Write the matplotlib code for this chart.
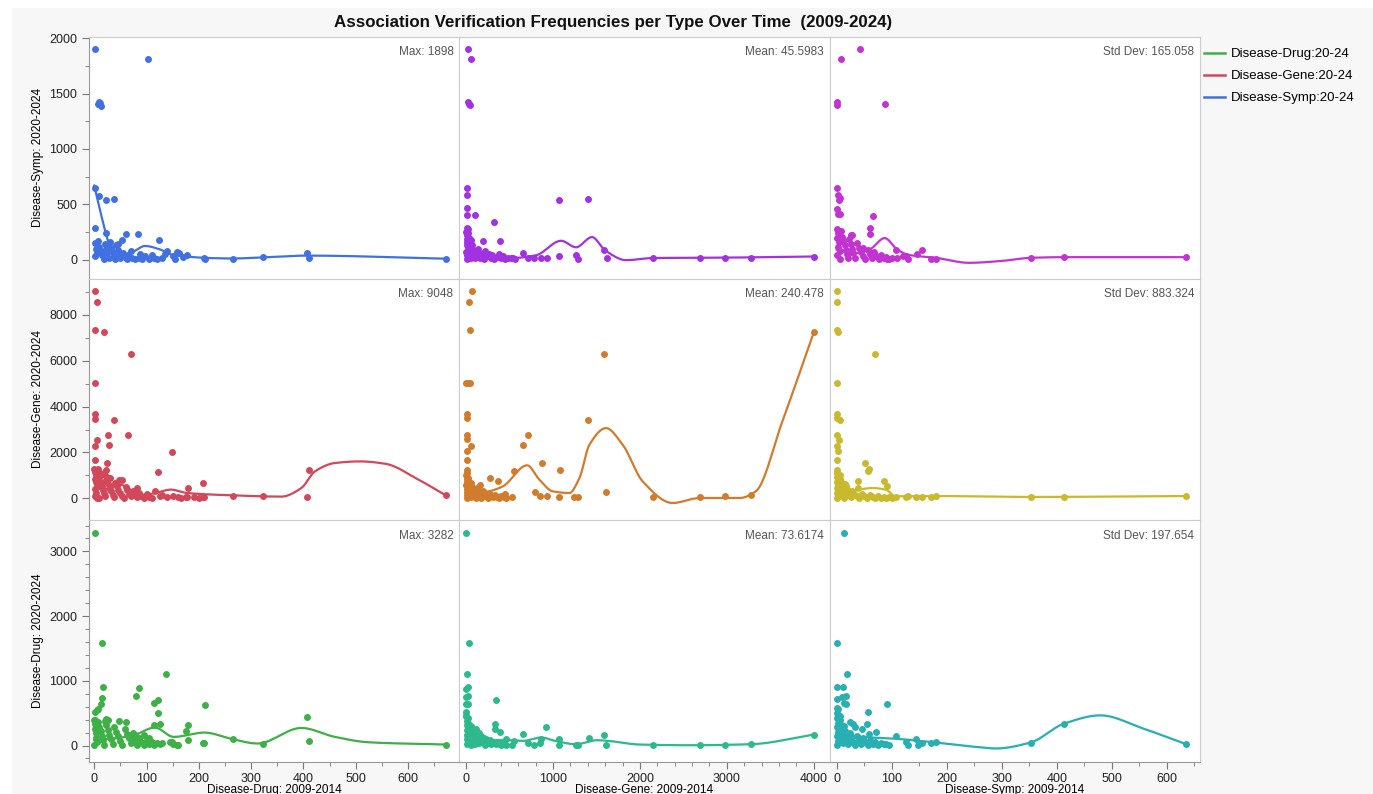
import numpy as np
import matplotlib.pyplot as plt
from matplotlib.lines import Line2D
from matplotlib.patches import Rectangle
from matplotlib.ticker import MultipleLocator

plt.rcParams["font.family"] = ["Liberation Sans", "DejaVu Sans"]

# column variables (x) and row variables (y)
col_names = ["Disease-Drug: 2009-2014", "Disease-Gene: 2009-2014", "Disease-Symp: 2009-2014"]
row_names = ["Disease-Symp: 2020-2024", "Disease-Gene: 2020-2024", "Disease-Drug: 2020-2024"]

stat_labels = ["Max", "Mean", "Std Dev"]
row_stats = [["1898", "45.5983", "165.058"],
             ["9048", "240.478", "883.324"],
             ["3282", "73.6174", "197.654"]]

legend_labels = ["Disease-Drug:20-24", "Disease-Gene:20-24", "Disease-Symp:20-24"]
legend_colors = ["#3db046", "#d2485a", "#4170e0"]

panel_colors = [["#4170e0", "#a032e1", "#c233d2"],
                ["#d2485a", "#d07c2c", "#c8b92d"],
                ["#3db046", "#2db98c", "#28afb2"]]

# ---- points: (x 2009-2014, y 2020-2024) ----
drug_symp = [(1, 1898), (102, 1810), (7, 1405), (11, 1415), (13, 1390), (9, 1420), (1, 648),
             (2, 285), (10, 580), (23, 540), (37, 550), (22, 245), (60, 230), (83, 230), (124, 180),
             (53, 175), (46, 140), (140, 80), (158, 72), (178, 48), (210, 18), (212, 8), (265, 9),
             (323, 24), (406, 62), (411, 18), (672, 9),
             (1, 150), (3, 100), (5, 60), (2, 30), (8, 170), (10, 120), (12, 80), (15, 40), (18, 10),
             (20, 140), (22, 95), (25, 60), (28, 20), (30, 160), (33, 110), (35, 70), (38, 30),
             (40, 5), (42, 130), (45, 90), (48, 50), (50, 15), (55, 60), (58, 25), (62, 10),
             (65, 45), (70, 80), (72, 20), (78, 5), (85, 15), (88, 50), (92, 10), (98, 30),
             (105, 5), (110, 40), (115, 15), (120, 5), (130, 20), (135, 55), (150, 30), (155, 10),
             (162, 60), (170, 25)]

gene_symp = [(20, 1898), (57, 1810), (22, 1420), (35, 1405), (45, 1395), (3, 648), (3, 585),
             (3, 465), (5, 400), (95, 405), (8, 286), (325, 345), (1070, 540), (1405, 553),
             (390, 170), (190, 170), (650, 60), (1065, 30), (1260, 40), (1290, 10), (1590, 85),
             (1615, 12), (2145, 18), (2690, 12), (2980, 12), (3280, 18), (4005, 24), (708, 15),
             (782, 15), (858, 15), (928, 12), (535, 15),
             (0, 250), (5, 220), (10, 190), (3, 160), (8, 130), (15, 100), (2, 70), (12, 40),
             (6, 10), (20, 280), (25, 240), (30, 200), (35, 150), (40, 110), (45, 60), (50, 20),
             (60, 180), (70, 130), (80, 90), (90, 50), (100, 15), (110, 70), (120, 30), (130, 100),
             (150, 60), (160, 20), (180, 45), (200, 10), (220, 80), (240, 30), (260, 55), (280, 15),
             (300, 40), (320, 10), (350, 25), (380, 50), (400, 15), (420, 30), (450, 10), (480, 20),
             (520, 12), (560, 10)]

symp_symp = [(42, 1898), (7, 1810), (1, 1420), (1, 1400), (87, 1405), (0, 645), (3, 585), (5, 560),
             (4, 540), (0, 460), (3, 410), (5, 410), (65, 395), (60, 290), (60, 232), (28, 228),
             (25, 220), (48, 105), (107, 90), (125, 33), (130, 9), (146, 56), (154, 86), (172, 9),
             (180, 9), (352, 18), (413, 24), (635, 24), (92, 9),
             (0, 280), (2, 240), (1, 200), (4, 160), (3, 120), (6, 80), (1, 40), (5, 10), (8, 260),
             (10, 210), (12, 170), (14, 130), (16, 90), (18, 50), (20, 15), (22, 190), (25, 140),
             (28, 100), (30, 60), (33, 20), (36, 150), (40, 110), (44, 70), (48, 30), (52, 5),
             (56, 90), (60, 50), (64, 15), (68, 70), (72, 30), (76, 10), (80, 45), (85, 15),
             (90, 25), (95, 10), (100, 20), (110, 12), (120, 30)]

drug_gene = [(1, 9048), (5, 8580), (1, 7340), (19, 7260), (70, 6300), (1, 5020), (1, 3670),
             (1, 3450), (37, 3400), (6, 2540), (26, 2740), (65, 2740), (1, 2265), (28, 2310),
             (149, 2035), (1, 1670), (24, 1540), (22, 1220), (7, 1290), (121, 1160), (207, 680),
             (411, 1220), (406, 45), (672, 130), (323, 85), (265, 100), (180, 435), (207, 44),
             (210, 44), (31, 885), (48, 780), (53, 790), (81, 435), (117, 320), (160, 44),
             (175, 44), (178, 44),
             (0, 1300), (2, 1150), (4, 1000), (1, 850), (3, 700), (5, 550), (2, 400), (4, 250),
             (1, 100), (6, 20), (8, 900), (10, 780), (12, 650), (14, 520), (16, 380), (18, 240),
             (20, 100), (9, 30), (22, 800), (25, 700), (28, 560), (30, 420), (32, 300), (35, 160),
             (38, 50), (40, 650), (43, 520), (46, 380), (50, 240), (53, 110), (56, 20), (60, 500),
             (63, 350), (66, 200), (70, 80), (74, 300), (78, 150), (82, 40), (86, 250), (90, 120),
             (95, 30), (100, 180), (105, 60), (110, 20), (125, 90), (130, 150), (140, 40),
             (150, 100), (165, 30), (190, 50), (200, 15), (13, 1000), (7, 1180), (18, 1100),
             (24, 950)]

gene_gene = [(65, 9048), (26, 8580), (46, 7340), (1590, 6300), (0, 5020), (20, 5020), (38, 5020),
             (5, 3670), (5, 3500), (1405, 3400), (5, 2740), (5, 2580), (50, 2265), (708, 2740),
             (650, 2320), (5, 2050), (5, 1685), (5, 1250), (5, 1100), (873, 1540), (545, 1205),
             (1076, 1250), (268, 885), (364, 770), (153, 595), (789, 260), (854, 87), (927, 87),
             (1065, 58), (1245, 58), (1287, 58), (1612, 260), (2145, 58), (2690, 58), (2980, 87),
             (3280, 130), (4004, 7260), (530, 60), (441, 188),
             (0, 1000), (5, 850), (10, 700), (2, 560), (8, 420), (4, 280), (12, 140), (6, 20),
             (20, 900), (25, 750), (30, 600), (35, 460), (40, 320), (45, 180), (50, 40), (60, 650),
             (70, 500), (80, 370), (90, 240), (100, 120), (110, 30), (120, 450), (130, 330),
             (145, 210), (160, 100), (175, 20), (190, 300), (210, 180), (230, 80), (250, 15),
             (270, 200), (290, 110), (310, 40), (330, 130), (350, 60), (380, 20), (400, 90),
             (430, 40), (460, 15), (15, 300), (25, 200), (35, 80)]

symp_gene = [(0, 9048), (1, 8580), (0, 7340), (3, 7270), (69, 6300), (0, 5020), (0, 3670),
             (1, 3500), (5, 3400), (1, 2740), (4, 2555), (1, 2265), (3, 2047), (0, 1670), (0, 1250),
             (51, 1540), (59, 1290), (56, 1176), (38, 770), (86, 740), (92, 523), (39, 450),
             (107, 58), (125, 58), (130, 87), (143, 58), (154, 58), (172, 72), (180, 100),
             (352, 58), (413, 58), (635, 100),
             (0, 1100), (1, 950), (2, 820), (0, 700), (3, 580), (1, 460), (2, 340), (0, 220),
             (3, 100), (1, 10), (5, 1000), (6, 860), (7, 720), (8, 590), (9, 470), (10, 350),
             (11, 230), (12, 110), (13, 20), (15, 640), (17, 520), (19, 400), (21, 280), (23, 160),
             (25, 50), (28, 300), (32, 200), (36, 100), (40, 30), (45, 180), (50, 90), (55, 20),
             (60, 140), (65, 60), (70, 20), (75, 100), (80, 30), (85, 60), (90, 15), (95, 40),
             (100, 20)]

drug_drug = [(1, 3282), (15, 1585), (138, 1110), (17, 900), (85, 890), (80, 765), (15, 740),
             (13, 640), (211, 630), (122, 697), (114, 650), (121, 510), (1, 520), (8, 570),
             (5, 555), (1, 390), (22, 415), (26, 400), (47, 378), (60, 363), (126, 340), (114, 320),
             (406, 440), (411, 70), (672, 15), (323, 30), (265, 100), (180, 315), (175, 220),
             (180, 80), (207, 40), (210, 40), (149, 52), (158, 15), (95, 160), (104, 110),
             (0, 400), (2, 330), (1, 260), (4, 190), (3, 120), (5, 50), (0, 5), (8, 360), (10, 290),
             (12, 220), (14, 150), (16, 80), (18, 15), (20, 380), (23, 310), (26, 240), (29, 170),
             (32, 100), (35, 30), (38, 280), (42, 210), (46, 140), (50, 70), (54, 10), (58, 250),
             (62, 180), (66, 110), (70, 40), (74, 150), (78, 80), (82, 15), (86, 120), (90, 50),
             (95, 10), (100, 90), (105, 30), (110, 60), (115, 15), (120, 40), (125, 20), (130, 35),
             (145, 50), (150, 20), (160, 10), (75, 200), (78, 170)]

gene_drug = [(0, 3282), (26, 1585), (12, 1110), (15, 900), (0, 880), (20, 763), (0, 750), (0, 640),
             (15, 640), (337, 697), (0, 520), (0, 460), (326, 327), (326, 250), (390, 210),
             (920, 286), (651, 178), (1410, 123), (1590, 158), (1612, 4), (1072, 108), (1065, 15),
             (1264, 4), (1287, 4), (862, 108), (845, 31), (708, 31), (782, 4), (529, 4), (545, 71),
             (452, 108), (2145, 4), (2690, 4), (2980, 4), (3280, 20), (4004, 170),
             (0, 450), (5, 380), (10, 310), (3, 240), (8, 170), (4, 100), (12, 30), (20, 420),
             (25, 350), (30, 280), (35, 210), (40, 140), (45, 70), (50, 10), (60, 300), (70, 230),
             (80, 160), (90, 90), (100, 20), (110, 250), (120, 180), (135, 110), (150, 40),
             (170, 140), (190, 70), (210, 15), (230, 100), (250, 40), (270, 80), (290, 20),
             (310, 60), (340, 30), (370, 50), (400, 15), (430, 40), (460, 10), (150, 200),
             (200, 120)]

symp_drug = [(13, 3282), (0, 1585), (19, 1110), (1, 902), (12, 902), (16, 763), (9, 750), (1, 720),
             (13, 650), (92, 645), (16, 640), (1, 580), (3, 570), (57, 515), (54, 338), (33, 286),
             (45, 261), (24, 363), (29, 338), (71, 210), (59, 180), (107, 143), (125, 52), (130, 15),
             (143, 97), (148, 4), (154, 46), (172, 46), (180, 52), (352, 46), (413, 338), (635, 20),
             (0, 500), (1, 420), (2, 350), (0, 280), (3, 210), (1, 140), (2, 70), (0, 5), (5, 460),
             (6, 390), (7, 320), (8, 250), (9, 180), (10, 110), (11, 40), (13, 300), (15, 230),
             (17, 160), (19, 90), (21, 20), (24, 200), (27, 130), (30, 60), (33, 10), (36, 150),
             (40, 80), (44, 20), (48, 120), (52, 50), (56, 10), (60, 90), (65, 30), (70, 60),
             (75, 15), (80, 40), (85, 20), (90, 30), (95, 10)]

# ---- smoother knots ----
smooth_drug_symp = [(0, 670), (22, 245), (35, 55), (55, 45), (75, 75), (97, 125), (125, 95),
                    (150, 45), (180, 28), (210, 18), (265, 12), (323, 22), (406, 38), (672, 10)]
smooth_gene_symp = [(0, 60), (200, 25), (500, 15), (800, 40), (1092, 172), (1264, 113),
                    (1448, 205), (1600, 85), (1840, -3), (2145, 16), (3000, 20), (4004, 30)]
smooth_symp_symp = [(0, 90), (30, 60), (60, 95), (87, 196), (110, 92), (130, 45), (180, 18),
                    (240, -27), (300, -10), (352, 18), (413, 24), (635, 24)]
smooth_drug_gene = [(0, 400), (25, 420), (50, 590), (75, 300), (95, 150), (120, 250), (146, 380),
                    (178, 230), (265, 130), (358, 75), (396, 450), (422, 1176), (460, 1540),
                    (508, 1610), (556, 1510), (620, 813), (672, 130)]
smooth_gene_gene = [(0, 200), (250, 300), (420, 520), (700, 1440), (842, 813), (996, 305),
                    (1187, 232), (1303, 885), (1418, 2337), (1609, 3062), (1801, 2337),
                    (2031, 740), (2376, -204), (2690, 14), (3150, 14), (3334, 305), (3640, 3353),
                    (4004, 7260)]
smooth_symp_gene = [(0, 150), (16, 232), (40, 378), (65, 450), (89, 378), (107, 87), (180, 100),
                    (352, 60), (635, 100)]
smooth_drug_drug = [(0, 80), (40, 110), (75, 158), (116, 277), (152, 133), (210, 200), (265, 97),
                    (312, 31), (396, 271), (460, 133), (524, 50), (672, 15)]
smooth_gene_drug = [(0, 110), (270, 82), (460, 82), (651, 71), (862, 123), (1025, 71), (1264, 20),
                    (1510, 82), (1635, 71), (1992, 15), (2580, 4), (3280, 20), (4004, 170)]
smooth_symp_drug = [(0, 180), (50, 130), (101, 108), (180, 46), (252, -21), (289, -46), (352, 46),
                    (413, 338), (479, 466), (557, 261), (635, 20)]

points = [[drug_symp, gene_symp, symp_symp],
          [drug_gene, gene_gene, symp_gene],
          [drug_drug, gene_drug, symp_drug]]
smoothers = [[smooth_drug_symp, smooth_gene_symp, smooth_symp_symp],
             [smooth_drug_gene, smooth_gene_gene, smooth_symp_gene],
             [smooth_drug_drug, smooth_gene_drug, smooth_symp_drug]]

col_xlim = [(-10, 698), (-80, 4185), (-13, 660)]
col_major = [100, 1000, 100]
col_minor = [50, 200, 50]
row_ylim = [(-170, 2010), (-960, 9580), (-255, 3480)]
row_major = [500, 2000, 1000]
row_minor = [250, 1000, 200]


def pchip(knots, n=400):
    # monotone cubic through the knots
    k = np.array(knots, dtype=float)
    x, y = k[:, 0], k[:, 1]
    h = np.diff(x)
    d = np.diff(y) / h
    m = np.zeros(len(x))
    m[0], m[-1] = d[0], d[-1]
    for i in range(1, len(x) - 1):
        if d[i - 1] * d[i] > 0:
            w1 = 2 * h[i] + h[i - 1]
            w2 = h[i] + 2 * h[i - 1]
            m[i] = (w1 + w2) / (w1 / d[i - 1] + w2 / d[i])
    xs = np.linspace(x[0], x[-1], n)
    idx = np.clip(np.searchsorted(x, xs) - 1, 0, len(x) - 2)
    t = (xs - x[idx]) / h[idx]
    h00 = 2 * t**3 - 3 * t**2 + 1
    h10 = t**3 - 2 * t**2 + t
    h01 = -2 * t**3 + 3 * t**2
    h11 = t**3 - t**2
    ys = h00 * y[idx] + h10 * h[idx] * m[idx] + h01 * y[idx + 1] + h11 * h[idx] * m[idx + 1]
    return xs, ys


W, H = 1373, 794
fig = plt.figure(figsize=(W / 100, H / 100), dpi=100, facecolor="white")
fig.patches.append(Rectangle((12 / W, 0), 1, 1 - 8 / H, transform=fig.transFigure,
                             facecolor="#f7f7f7", edgecolor="none", zorder=-10))

gs = fig.add_gridspec(3, 3, left=89 / W, right=1200 / W, top=1 - 37 / H, bottom=1 - 762 / H,
                      wspace=0, hspace=0)

for r in range(3):
    for c in range(3):
        ax = fig.add_subplot(gs[r, c])
        ax.set_facecolor("white")
        pts = np.array(points[r][c], dtype=float)
        col = panel_colors[r][c]
        ax.scatter(pts[:, 0], pts[:, 1], s=25, color=col, linewidths=0, zorder=3)
        sx, sy = pchip(smoothers[r][c])
        ax.plot(sx, sy, color=col, lw=1.6, zorder=4)
        ax.set_xlim(*col_xlim[c])
        ax.set_ylim(*row_ylim[r])
        ax.xaxis.set_major_locator(MultipleLocator(col_major[c]))
        ax.xaxis.set_minor_locator(MultipleLocator(col_minor[c]))
        ax.yaxis.set_major_locator(MultipleLocator(row_major[r]))
        ax.yaxis.set_minor_locator(MultipleLocator(row_minor[r]))
        for s in ax.spines.values():
            s.set_color("#cccccc")
            s.set_linewidth(0.8)
        ax.tick_params(which="both", left=False, bottom=False, labelleft=False,
                       labelbottom=False, colors="#777777", labelcolor="#222222", labelsize=9)
        ax.tick_params(which="major", length=5)
        ax.tick_params(which="minor", length=3)
        if c == 0:
            ax.spines["left"].set_color("#999999")
            ax.tick_params(axis="y", which="both", left=True, labelleft=True)
            ax.set_ylabel(row_names[r], fontsize=8.5, labelpad=4)
        if r == 2:
            ax.spines["bottom"].set_color("#999999")
            ax.tick_params(axis="x", which="both", bottom=True, labelbottom=True, pad=3)
            ax.set_xlabel(col_names[c], fontsize=8.5, labelpad=-1)
        ax.text(0.984, 0.937, "%s: %s" % (stat_labels[c], row_stats[r][c]),
                transform=ax.transAxes, ha="right", va="center", fontsize=8.5, color="#555555")

fig.text(613 / W, 1 - 22 / H, "Association Verification Frequencies per Type Over Time  (2009-2024)",
         ha="center", va="center", fontsize=12.2, fontweight="bold", color="#111111")

handles = [Line2D([], [], color=lc, lw=1.8) for lc in legend_colors]
fig.legend(handles, legend_labels, loc="upper left", bbox_to_anchor=(1204 / W, 1 - 48 / H),
           frameon=False, fontsize=9.5, handlelength=1.6, handletextpad=0.45,
           labelspacing=0.75, borderaxespad=0, borderpad=0)

fig.savefig("out.png", dpi=100, facecolor=fig.get_facecolor())
